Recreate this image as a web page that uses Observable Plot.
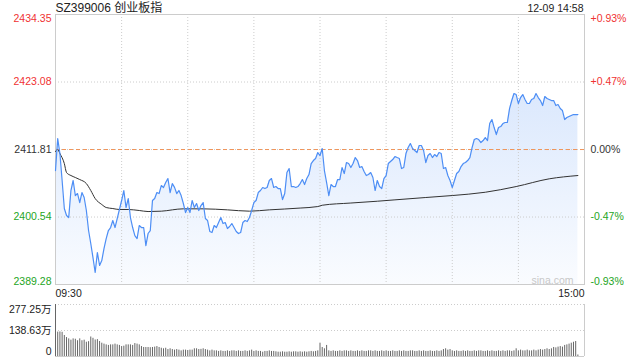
<!DOCTYPE html>
<html><head><meta charset="utf-8">
<script src="https://cdn.jsdelivr.net/npm/d3@7"></script>
<script src="https://cdn.jsdelivr.net/npm/@observablehq/plot@0.6"></script>
<style>
body{margin:0;background:#fff;}
#chart{position:relative;width:640px;height:360px;overflow:hidden;}
#chart svg{display:block;}
</style></head><body><div id="chart"></div>
<script>
const title = "SZ399006 创业板指";
const stamp = "12-09 14:58";
const prevClose = 2411.81;
const priceTicks = [2434.35, 2423.08, 2411.81, 2400.54, 2389.28];
const timeLabels = ["09:30", "15:00"];
const gridMinutes = [30, 60, 90, 120, 150, 180, 210];
const sessionMinutes = [0, 240];
const volumeTicks = [277.25, 138.63, 0];

const prices = [
2408.30,2413.65,2411.14,2406.64,2401.96,2400.79,2400.46,2404.97,2406.64,2404.13,
2404.46,2402.96,2404.63,2403.80,2401.63,2398.29,2396.12,2393.78,2391.28,2394.62,
2392.45,2393.28,2395.28,2396.95,2398.29,2398.79,2399.96,2398.79,2400.29,2401.80,
2403.30,2404.97,2402.13,2403.63,2400.46,2398.79,2397.45,2396.95,2399.12,2398.79,
2398.79,2395.78,2397.79,2398.29,2403.30,2403.63,2404.63,2404.46,2405.80,2405.47,
2406.30,2406.97,2404.63,2406.13,2405.50,2404.46,2404.97,2404.13,2402.80,2401.29,
2402.13,2401.29,2403.30,2402.13,2402.80,2401.63,2402.46,2402.96,2400.29,2399.96,
2398.13,2397.96,2399.12,2398.79,2399.62,2400.46,2399.46,2399.62,2398.62,2398.96,
2399.46,2398.79,2398.13,2397.79,2397.96,2399.62,2399.96,2399.79,2400.46,2401.63,
2402.96,2403.30,2404.63,2404.97,2405.47,2405.30,2405.47,2406.64,2406.97,2405.47,
2405.63,2405.30,2405.30,2403.46,2404.46,2407.97,2408.64,2405.63,2405.63,2405.47,
2405.63,2406.13,2406.80,2405.97,2406.97,2407.64,2409.47,2409.97,2410.31,2411.31,
2410.81,2411.98,2408.30,2406.30,2404.13,2405.97,2405.63,2405.63,2406.80,2406.80,
2408.81,2407.80,2409.64,2409.47,2408.81,2409.47,2410.47,2409.97,2408.81,2408.97,
2408.14,2407.47,2407.64,2407.97,2407.14,2404.97,2406.64,2405.63,2405.30,2406.97,
2407.47,2409.47,2409.81,2410.14,2410.64,2410.47,2410.31,2408.64,2408.81,2411.14,
2412.14,2412.81,2411.98,2411.64,2411.31,2412.48,2412.48,2411.64,2409.64,2410.81,
2411.14,2410.47,2410.97,2410.64,2411.31,2411.14,2408.64,2408.81,2407.47,2406.64,
2405.47,2406.64,2407.80,2408.14,2408.97,2409.47,2409.64,2409.97,2410.47,2412.14,
2413.48,2413.65,2413.48,2412.98,2413.31,2413.81,2413.31,2416.15,2416.82,2415.48,
2414.31,2415.48,2415.65,2416.15,2416.32,2416.32,2418.65,2419.99,2421.16,2420.99,
2419.49,2420.49,2420.99,2420.16,2419.49,2419.49,2420.16,2420.32,2421.16,2420.49,
2419.99,2419.15,2420.66,2420.32,2420.16,2419.99,2419.99,2419.15,2419.32,2418.65,
2418.32,2416.82,2417.15,2417.32,2417.49,2417.65,2417.65,2417.65
];

const avgMinutes = [0,1,2,4,5,7,9,11,14,16,18,21,23,26,29,33,38,42,48,58,67,78,88,97,111,119,121,134,146,154,168,180,195,209,224,237];
const avgPrices = [2411.48,2411.81,2411.14,2409.47,2407.97,2407.47,2407.14,2406.80,2406.13,2404.97,
2403.63,2402.63,2402.13,2401.96,2401.80,2401.80,2401.63,2401.46,2401.52,2401.91,
2401.91,2401.74,2401.52,2401.74,2402.04,2402.29,2402.51,2402.88,2403.18,2403.41,
2403.80,2404.13,2404.68,2405.63,2406.92,2407.47];

// volumes in 万
const volumes = [
277.25,130,131,129,112,101,94,87,94,92,
84,94,84,87,76,79,104,97,88,90,
80,71,66,62,59,62,62,66,62,59,
53,55,62,62,62,59,69,66,62,53,
48,48,48,47,48,50,53,48,44,41,
44,37,41,37,34,37,34,30,34,34,
32,34,34,41,41,37,38,41,37,34,
30,34,30,30,27,30,27,27,30,27,
30,30,27,30,27,27,30,27,30,34,
27,30,27,27,23,27,27,30,27,27,
25,23,23,25,23,23,25,23,25,25,
23,25,23,25,23,25,27,25,27,30,
71,48,41,59,30,
27,30,27,27,30,27,30,30,27,30,
27,27,30,27,30,27,27,30,30,27,
30,27,27,30,27,30,27,27,30,27,
27,30,27,30,27,27,30,30,27,27,
30,27,30,27,27,30,27,27,30,27,30,
37,41,34,37,30,
27,30,27,27,30,27,30,27,27,30,
27,30,30,27,27,30,27,30,27,27,
30,27,30,27,30,30,27,30,
41,
30,34,30,30,34,30,30,34,30,34,
37,34,37,41,37,41,
48,46,50,53,50,59,
62,66,71,76,80,
8
];

const RED = "#f03232", GREEN = "#25a525", TEXT = "#333333";
const GRID = "#cccccc";
const FONT = '"Liberation Sans", Arial, "Noto Sans CJK SC", sans-serif';
const tickColor = v => v > prevClose ? RED : v < prevClose ? GREEN : TEXT;
const pctText = v => {
  const p = (v - prevClose) / prevClose * 100;
  return (p > 0 ? "+" : "") + p.toFixed(2) + "%";
};

const series = prices.map((p, i) => ({i, p}));
const avg = avgMinutes.map((m, k) => ({i: m, p: avgPrices[k]}));
const yMin = d3.min(priceTicks), yMax = d3.max(priceTicks);

const gradient = () => {
  const ns = "http://www.w3.org/2000/svg";
  const defs = document.createElementNS(ns, "defs");
  defs.innerHTML = '<linearGradient id="fillGrad" x1="0" y1="0" x2="0" y2="1">' +
    '<stop offset="0" stop-color="#4d8ef5" stop-opacity="0.2"/>' +
    '<stop offset="1" stop-color="#4d8ef5" stop-opacity="0.03"/></linearGradient>';
  return defs;
};

const tickTop = priceTicks.slice(0, 1), tickMid = priceTicks.slice(1, -1), tickBot = priceTicks.slice(-1);
const leftLabels = (data, anchor) => Plot.text(data, {y: d => d, text: d => d.toFixed(2), frameAnchor: "left", textAnchor: "end", dx: -4, lineAnchor: anchor, fill: tickColor});
const rightLabels = (data, anchor) => Plot.text(data, {y: d => d, text: pctText, frameAnchor: "right", textAnchor: "start", dx: 6, lineAnchor: anchor, fill: tickColor});

const mainPlot = Plot.plot({
  width: 640, height: 300,
  marginTop: 14, marginBottom: 16, marginLeft: 55, marginRight: 56,
  x: {domain: sessionMinutes, axis: null},
  y: {domain: [yMin, yMax], axis: null},
  color: {type: "identity"},
  style: {fontFamily: FONT, fontSize: "10.5px", background: "transparent", overflow: "visible"},
  marks: [
    gradient,
    Plot.areaY(series, {x: "i", y1: () => yMin, y2: "p", fill: "url(#fillGrad)"}),
    Plot.ruleY(tickMid, {stroke: GRID, strokeDasharray: "1,2"}),
    Plot.ruleX(gridMinutes, {stroke: GRID, strokeDasharray: "1,2"}),
    Plot.ruleY([prevClose], {stroke: "#f0955a", strokeDasharray: "4,3"}),
    Plot.frame({stroke: GRID}),
    Plot.line(avg, {x: "i", y: "p", stroke: "#333", strokeWidth: 1, curve: "monotone-x"}),
    Plot.line(series, {x: "i", y: "p", stroke: "#4d8ef5", strokeWidth: 1.2}),
    leftLabels(tickTop, "top"), leftLabels(tickMid, "middle"), leftLabels(tickBot, "bottom"),
    rightLabels(tickTop, "top"), rightLabels(tickMid, "middle"), rightLabels(tickBot, "bottom"),
    Plot.text([title], {text: d => d, frameAnchor: "top-left", textAnchor: "start", lineAnchor: "middle", dy: -6, fontSize: 12, fill: "#222"}),
    Plot.text([stamp], {text: d => d, frameAnchor: "top-right", textAnchor: "end", lineAnchor: "middle", dy: -6, dx: -1, fill: "#222"}),
    Plot.text([timeLabels[0]], {text: d => d, frameAnchor: "bottom-left", textAnchor: "start", lineAnchor: "middle", dy: 9, fill: "#222"}),
    Plot.text([timeLabels[1]], {text: d => d, frameAnchor: "bottom-right", textAnchor: "end", lineAnchor: "middle", dy: 9, fill: "#222"}),
    Plot.text(["sina.com"], {text: d => d, frameAnchor: "bottom-right", textAnchor: "end", lineAnchor: "bottom", dx: -11, dy: -1, fill: "#c8c8c8"})
  ]
});

const volLabel = v => v === 0 ? "0" : v.toFixed(2) + "万";
const volPlot = Plot.plot({
  width: 640, height: 60,
  marginTop: 4, marginBottom: 4, marginLeft: 55, marginRight: 56,
  x: {domain: sessionMinutes, axis: null},
  y: {domain: [0, volumeTicks[0]], axis: null},
  style: {fontFamily: FONT, fontSize: "10.5px", background: "transparent", overflow: "visible"},
  marks: [
    Plot.ruleY(volumeTicks.slice(0, 2), {stroke: GRID, strokeDasharray: "1,2"}),
    Plot.ruleX(sessionMinutes, {stroke: GRID}),
    Plot.ruleY([0], {stroke: GRID}),
    Plot.ruleX(volumes, {x: (d, i) => i, y1: () => 0, y2: d => d, stroke: "#666", strokeWidth: 1}),
    Plot.text(volumeTicks.slice(0, 1), {y: d => d, text: volLabel, frameAnchor: "left", textAnchor: "end", dx: -4, dy: 1, lineAnchor: "top", fill: "#222"}),
    Plot.text(volumeTicks.slice(1, 2), {y: d => d, text: volLabel, frameAnchor: "left", textAnchor: "end", dx: -4, lineAnchor: "middle", fill: "#222"}),
    Plot.text(volumeTicks.slice(2), {y: d => d, text: volLabel, frameAnchor: "left", textAnchor: "end", dx: -4, dy: -2, lineAnchor: "bottom", fill: "#222"})
  ]
});

document.getElementById("chart").append(mainPlot, volPlot);
</script>
</body></html>
